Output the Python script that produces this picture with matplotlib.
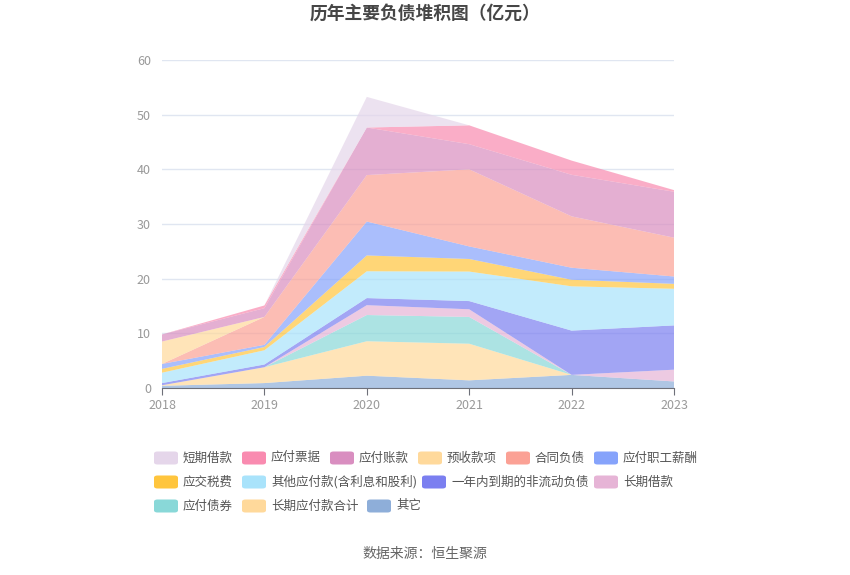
import matplotlib
matplotlib.use("Agg")
import matplotlib.pyplot as plt
from matplotlib.patches import FancyBboxPatch

plt.rcParams['font.family'] = ['Noto Sans CJK SC', 'DejaVu Sans']

years = [2018, 2019, 2020, 2021, 2022, 2023]

# stacked from bottom to top
other      = [0.4, 0.9, 2.25, 1.4, 2.4, 1.2]      # 其它
lt_payable = [0.1, 2.9, 6.3, 6.7, 0.0, 0.0]      # 长期应付款合计
bonds      = [0.0, 0.0, 4.8, 4.9, 0.0, 0.0]      # 应付债券
lt_loan    = [0.0, 0.0, 1.8, 1.4, 0.0, 2.15]     # 长期借款
cur_ncl    = [0.4, 0.5, 1.3, 1.5, 8.1, 8.1]      # 一年内到期的非流动负债
other_pay  = [1.9, 2.6, 4.9, 5.4, 8.1, 6.7]      # 其他应付款(含利息和股利)
tax        = [0.7, 0.6, 2.9, 2.3, 1.2, 0.9]      # 应交税费
salary     = [0.9, 0.4, 6.2, 2.3, 2.2, 1.35]     # 应付职工薪酬
contract   = [0.0, 5.1, 8.5, 14.1, 9.4, 7.1]     # 合同负债
advance    = [4.1, 0.0, 0.0, 0.0, 0.0, 0.0]      # 预收款项
acc_pay    = [1.3, 1.6, 8.7, 4.6, 7.6, 8.4]      # 应付账款
notes_pay  = [0.0, 0.5, 0.0, 3.45, 2.6, 0.3]     # 应付票据
st_loan    = [0.0, 0.0, 5.6, 0.0, 0.0, 0.0]      # 短期借款

series = [other, lt_payable, bonds, lt_loan, cur_ncl, other_pay, tax,
          salary, contract, advance, acc_pay, notes_pay, st_loan]
names = ['其它', '长期应付款合计', '应付债券', '长期借款', '一年内到期的非流动负债',
         '其他应付款(含利息和股利)', '应交税费', '应付职工薪酬', '合同负债',
         '预收款项', '应付账款', '应付票据', '短期借款']
colors = ['#8EAED9', '#FFD99B', '#89D8D8', '#E6B4D6', '#7B7FF0', '#A9E3FB',
          '#FFC53D', '#86A3FB', '#FBA195', '#FFD99B', '#D98EC0', '#F98BB0', '#E5D6EA']

fig = plt.figure(figsize=(8.5, 5.75), dpi=100)
ax = fig.add_axes([162/850, 1-388/575, 512/850, 328/575])
ax.stackplot(years, *series, colors=colors, alpha=0.7, linewidth=0)

ax.set_xlim(2018, 2023)
ax.set_ylim(0, 60)
ax.set_yticks([0, 10, 20, 30, 40, 50, 60])
ax.set_xticks(years)
ax.grid(axis='y', color='#E0E6F1', linewidth=1)
ax.set_axisbelow(True)
for s in ['top', 'right', 'left']:
    ax.spines[s].set_visible(False)
ax.spines['bottom'].set_color('#6E7079')
ax.tick_params(axis='y', length=0, colors='#999999', labelsize=9, pad=8)
ax.tick_params(axis='x', length=5, color='#6E7079', colors='#999999', labelsize=9, pad=3)

fig.text(0.5, 1-14/575, '历年主要负债堆积图（亿元）', ha='center', va='center',
         fontsize=12.8, fontweight='bold', color='#464646')
fig.text(0.5, 1-554/575, '数据来源：恒生聚源', ha='center', va='center',
         fontsize=10, color='#666666')

# legend (manual layout): (series index, patch left x px, row center y px)
legend_items = [
    (12, 154, 458), (11, 242, 458), (10, 330, 458),
    (9, 418, 458), (8, 506, 458), (7, 594, 458),
    (6, 154, 482), (5, 242, 482), (4, 422, 482), (3, 594, 482),
    (2, 154, 506), (1, 242, 506), (0, 367, 506),
]
for idx, px, py in legend_items:
    w, h = 24, 13
    patch = FancyBboxPatch((px/850, 1-(py+h/2)/575), w/850, h/575,
                           boxstyle='round,pad=0,rounding_size=0.004',
                           transform=fig.transFigure, facecolor=colors[idx],
                           edgecolor='none')
    fig.patches.append(patch)
    fig.text((px+w+5)/850, 1-py/575, names[idx], ha='left', va='center',
             fontsize=9, color='#555555')

fig.savefig('out.png', dpi=100)
